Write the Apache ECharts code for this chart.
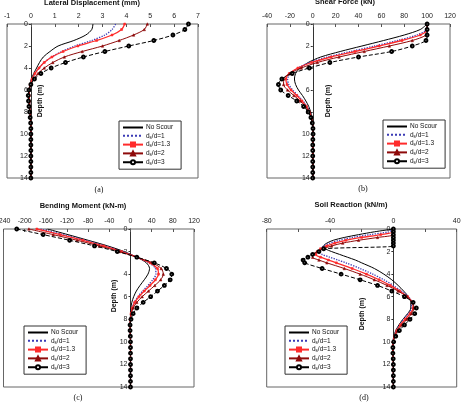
<!DOCTYPE html>
<html style="height: 100%">
<head>
<meta charset="utf-8">
</head>
<body style="height: 100%; margin: 0; background: #fff">
<div id="container" style="width: 465px; height: 402px"></div>
<script type="text/javascript" src="https://cdn.jsdelivr.net/npm/echarts@6/dist/echarts.min.js"></script>
<script type="text/javascript">
var names = ['No Scour', 'ds/d=1', 'ds/d=1.3', 'ds/d=2', 'ds/d=3'];

// depth (m), every 0.5 m
var depth = [0, 0.5, 1, 1.5, 2, 2.5, 3, 3.5, 4, 4.5, 5, 5.5, 6, 6.5, 7, 7.5, 8, 8.5, 9, 9.5, 10, 10.5, 11, 11.5, 12, 12.5, 13, 13.5, 14];
// finer near the top for soil reaction
var depthD = [0, 0.25, 0.5, 0.75, 1, 1.25, 1.5, 1.75, 2, 2.25, 2.5, 2.75, 3, 3.5, 4, 4.5, 5, 5.5, 6, 6.5, 7, 7.5, 8, 8.5, 9, 9.5, 10, 10.5, 11, 11.5, 12, 12.5, 13, 13.5, 14];

// (a) lateral displacement (mm)
var dispNo  = [2.6, 2.55, 2.3, 1.8, 1.14, 0.8, 0.52, 0.36, 0.24, 0.12, 0.02, -0.04, -0.06, -0.06, -0.05, -0.04, -0.03, -0.02, -0.01, 0, 0, 0, 0, 0, 0, 0, 0, 0, 0];
var disp1   = [3.55, 3.4, 3.1, 2.55, 1.84, 1.3, 0.87, 0.55, 0.34, 0.17, 0.05, -0.03, -0.06, -0.07, -0.06, -0.05, -0.03, -0.02, -0.01, 0, 0, 0, 0, 0, 0, 0, 0, 0, 0];
var disp13  = [3.93, 3.8, 3.4, 2.75, 1.97, 1.35, 0.88, 0.56, 0.34, 0.17, 0.05, -0.03, -0.07, -0.07, -0.06, -0.05, -0.03, -0.02, -0.01, 0, 0, 0, 0, 0, 0, 0, 0, 0, 0];
var disp2   = [4.88, 4.75, 4.3, 3.7, 3.0, 2.15, 1.4, 0.92, 0.56, 0.3, 0.12, 0, -0.07, -0.09, -0.08, -0.06, -0.04, -0.02, -0.01, 0, 0, 0, 0, 0, 0, 0, 0, 0, 0];
var disp3   = [6.6, 6.45, 5.95, 5.15, 4.1, 3.1, 2.2, 1.45, 0.85, 0.42, 0.15, 0, -0.08, -0.11, -0.1, -0.08, -0.05, -0.03, -0.01, 0, 0, 0, 0, 0, 0, 0, 0, 0, 0];

// (b) shear force (kN)
var shearNo = [100, 94, 80, 62, 43, 24, 7, -4, -11, -15, -16, -15, -12.5, -9, -6, -3.5, -1.8, -0.7, -0.1, 0.2, 0.2, 0.1, 0, 0, 0, 0, 0, 0, 0];
var shear1  = [100, 99.5, 91, 74, 54, 33, 13, -3, -13, -19.5, -22, -21, -17.5, -13, -8.5, -5, -2.5, -1, -0.2, 0.2, 0.2, 0.1, 0, 0, 0, 0, 0, 0, 0];
var shear13 = [100, 100, 94, 78, 58, 37, 16, -1, -13, -20.5, -23.5, -22.5, -19, -14, -9.5, -5.5, -2.8, -1.1, -0.2, 0.2, 0.2, 0.1, 0, 0, 0, 0, 0, 0, 0];
var shear2  = [100, 100, 99, 87, 67, 45, 23, 4, -10, -20, -25.5, -25.5, -22, -16.5, -11, -6.5, -3.3, -1.3, -0.3, 0.2, 0.3, 0.1, 0, 0, 0, 0, 0, 0, 0];
var shear3  = [100, 100, 100, 99, 87, 69, 40, 15, -3, -18, -27, -30, -28, -21.5, -14, -8, -4, -1.6, -0.4, 0.2, 0.3, 0.1, 0, 0, 0, 0, 0, 0, 0];

// (c) bending moment (kN-m)
var momNo = [-157, -118, -80, -43, -12, 12, 30, 36, 33, 26, 18, 11, 6, 2.5, 0.8, 0, -0.4, -0.5, -0.3, -0.1, 0, 0, 0, 0, 0, 0, 0, 0, 0];
var mom1  = [-170, -127, -86, -48, -15, 12, 35, 47, 48, 42, 33, 23, 14, 7, 3, 0.8, -0.3, -0.6, -0.4, -0.2, 0, 0, 0, 0, 0, 0, 0, 0, 0];
var mom13 = [-177, -133, -90, -51, -17, 12, 37, 51, 53, 47, 37, 26, 16, 8, 3.5, 1, -0.3, -0.6, -0.4, -0.2, 0, 0, 0, 0, 0, 0, 0, 0, 0];
var mom2  = [-192, -146, -101, -59, -21, 12, 41, 58, 62, 57, 46, 34, 22, 12, 5, 1.5, 0, -0.6, -0.5, -0.2, 0, 0, 0, 0, 0, 0, 0, 0, 0];
var mom3  = [-215, -165, -115, -68, -25, 12, 45, 68, 78, 75, 64, 51, 38, 24, 12, 5, 1, -0.8, -0.8, -0.3, 0, 0, 0, 0, 0, 0, 0, 0, 0];

// (d) soil reaction (kN/m), on depthD
var reactNo = [0, -12, -22, -31, -38, -42, -44, -43, -39, -34, -29, -24, -20, -12, -6, -1, 3, 6.5, 9.5, 11, 11, 9, 6, 3.5, 1.5, 0.3, -0.3, -0.4, -0.3, -0.1, 0, 0, 0, 0, 0];
var react1  = [0, -3, -15, -26, -34, -40, -44, -46, -47, -45, -40, -35, -30, -21, -13, -6, 0, 5, 9.5, 11.5, 11.5, 9.5, 6.5, 4, 2, 0.6, -0.2, -0.4, -0.3, -0.1, 0, 0, 0, 0, 0];
var react13 = [0, 0, -8, -20, -30, -37, -42, -46, -48, -49, -46, -41, -36, -26, -17, -9, -2, 4, 9, 12, 12.5, 10.5, 7.5, 4.5, 2.2, 0.7, -0.2, -0.4, -0.3, -0.1, 0, 0, 0, 0, 0];
var react2  = [0, 0, 0, -10, -22, -32, -39, -44, -48, -51, -51, -47, -42, -31, -21, -12, -4, 3, 8.5, 12, 13, 11.5, 8.5, 5.5, 2.8, 1, 0, -0.3, -0.3, -0.1, 0, 0, 0, 0, 0];
var react3  = [0, 0, 0, 0, 0, 0, 0, -44, -47, -51, -54, -57, -56, -45, -33, -21, -10, -1, 7, 12.5, 14.5, 13.5, 10.5, 7, 3.8, 1.5, 0.2, -0.3, -0.3, -0.1, 0, 0, 0, 0, 0];

var dom = document.getElementById('container');
var myChart = echarts.init(dom, null, { renderer: 'canvas' });

var styles = [
    { color: '#000000', type: 'solid', width: 1, symbol: 'none', size: 0 },
    { color: '#3b3bb5', type: 'dotted', width: 1.3, symbol: 'none', size: 0 },
    { color: '#ff2b2b', type: 'solid', width: 1.3, symbol: 'rect', size: 2 },
    { color: '#8e0a0a', type: 'solid', width: 1, symbol: 'triangle', size: 2.5 },
    { color: '#000000', type: 'dashed', width: 1, symbol: 'emptyCircle', size: 2.8 }
];

function pairs(vals, dep) {
    return vals.map(function (v, i) { return [v, dep[i]]; });
}

function makeSeries(idx, sets, dep) {
    return sets.map(function (vals, k) {
        var s = styles[k];
        return {
            name: names[k],
            type: 'line',
            xAxisIndex: idx,
            yAxisIndex: idx,
            data: pairs(vals, dep),
            smooth: 0.3,
            symbol: s.symbol,
            symbolSize: s.size,
            showSymbol: s.symbol !== 'none',
            lineStyle: { color: s.color, type: s.type, width: s.width },
            itemStyle: { color: s.color, borderColor: s.color, borderWidth: 0.5 },
            z: 2 + k
        };
    });
}

var grids = [
    { left: 7, top: 24, width: 191, height: 154 },
    { left: 267, top: 24, width: 183, height: 154 },
    { left: 3.5, top: 229, width: 190.5, height: 158 },
    { left: 266.7, top: 229, width: 190, height: 158 }
];
var xRanges = [[-1, 7, 1], [-40, 120, 20], [-240, 120, 40], [-80, 40, 40]];
// where the rotated "Depth (m)" label sits in each panel
var depthNamePos = [[40, 101], [328, 101], [114, 296], [362, 314]];

function xAxisFor(i) {
    return {
        type: 'value', gridIndex: i, position: 'top',
        min: xRanges[i][0], max: xRanges[i][1], interval: xRanges[i][2],
        axisLine: { show: false },
        axisTick: { show: true, inside: true, length: 3, lineStyle: { color: '#555' } },
        minorTick: { show: i === 3, splitNumber: 2, length: 3, lineStyle: { color: '#555' } },
        splitLine: { show: false },
        axisLabel: { fontSize: 7, margin: 4, color: '#222', fontFamily: 'Liberation Sans' }
    };
}
function yAxisFor(i) {
    // shift the depth axis (line, ticks and labels) onto x = 0
    var r = xRanges[i];
    var shift = grids[i].width * (0 - r[0]) / (r[1] - r[0]);
    return {
        type: 'value', gridIndex: i, inverse: true,
        min: 0, max: 14, interval: 2,
        position: 'left', offset: -shift,
        axisLine: { show: true, onZero: false, lineStyle: { color: '#333', width: 1 } },
        axisTick: { show: true, length: 2, lineStyle: { color: '#333' } },
        splitLine: { show: false },
        axisLabel: { fontSize: 7, margin: 3, color: '#222', fontFamily: 'Liberation Sans' }
    };
}

var legendPos = [
    { left: 119, top: 121 },
    { left: 383, top: 120 },
    { left: 24, top: 326 },
    { left: 285, top: 326 }
];
var legendItems = names.map(function (n, k) {
    // line-only entries: hide the marker the legend would add
    return styles[k].symbol === 'none' ? { name: n, itemStyle: { opacity: 0 } } : { name: n };
});
function legendFor(i) {
    return {
        left: legendPos[i].left, top: legendPos[i].top,
        orient: 'vertical',
        data: legendItems,
        itemWidth: 20, itemHeight: 5, itemGap: 0.8,
        padding: [3, 8, 3, 3],
        borderColor: '#333', borderWidth: 1,
        backgroundColor: '#fff',
        selectedMode: false,
        formatter: function (name) {
            if (name.indexOf('ds') === 0) {
                return '{n|d}{s|s}{n|' + name.slice(2) + '}';
            }
            return '{n|' + name + '}';
        },
        textStyle: {
            fontFamily: 'Liberation Sans', fontSize: 6.5, color: '#111', padding: [0, 0, 0, -2],
            rich: {
                n: { fontSize: 6.5, fontFamily: 'Liberation Sans', color: '#111', lineHeight: 8 },
                s: { fontSize: 4.5, fontFamily: 'Liberation Sans', color: '#111', verticalAlign: 'bottom', padding: [3, 0, 0, 0], lineHeight: 8 }
            }
        }
    };
}

var titleFont = { fontSize: 7.5, fontWeight: 'bold', color: '#111', fontFamily: 'Liberation Sans' };
var capFont = { fontSize: 8, fontWeight: 'normal', color: '#111', fontFamily: 'Liberation Serif' };

var option = {
    animation: false,
    backgroundColor: '#fff',
    title: [
        { text: 'Lateral Displacement (mm)', left: 92, top: -1, textAlign: 'center', textStyle: titleFont, padding: 0 },
        { text: 'Shear Force (kN)', left: 345, top: -2, textAlign: 'center', textStyle: titleFont, padding: 0 },
        { text: 'Bending Moment (kN-m)', left: 83, top: 202, textAlign: 'center', textStyle: titleFont, padding: 0 },
        { text: 'Soil Reaction (kN/m)', left: 351, top: 201, textAlign: 'center', textStyle: titleFont, padding: 0 },
        { text: '(a)', left: 99, top: 186, textAlign: 'center', textStyle: capFont, padding: 0 },
        { text: '(b)', left: 363, top: 185, textAlign: 'center', textStyle: capFont, padding: 0 },
        { text: '(c)', left: 78, top: 394, textAlign: 'center', textStyle: capFont, padding: 0 },
        { text: '(d)', left: 364, top: 394, textAlign: 'center', textStyle: capFont, padding: 0 }
    ],
    graphic: depthNamePos.map(function (p) {
        return {
            type: 'text', x: p[0], y: p[1], rotation: Math.PI / 2, z: 20,
            style: {
                text: 'Depth (m)', align: 'center', verticalAlign: 'middle',
                font: 'bold 7px "Liberation Sans"', fill: '#111'
            }
        };
    }),
    grid: grids.map(function (g) {
        return Object.assign({
            show: true, borderColor: '#666', borderWidth: 1, backgroundColor: 'transparent',
            outerBoundsMode: 'none', containLabel: false
        }, g);
    }),
    xAxis: [0, 1, 2, 3].map(xAxisFor),
    yAxis: [0, 1, 2, 3].map(yAxisFor),
    legend: [0, 1, 2, 3].map(legendFor),
    series: [].concat(
        makeSeries(0, [dispNo, disp1, disp13, disp2, disp3], depth),
        makeSeries(1, [shearNo, shear1, shear13, shear2, shear3], depth),
        makeSeries(2, [momNo, mom1, mom13, mom2, mom3], depth),
        makeSeries(3, [reactNo, react1, react13, react2, react3], depthD)
    )
};

if (option && typeof option === 'object') {
    myChart.setOption(option);
}
</script>
</body>
</html>
